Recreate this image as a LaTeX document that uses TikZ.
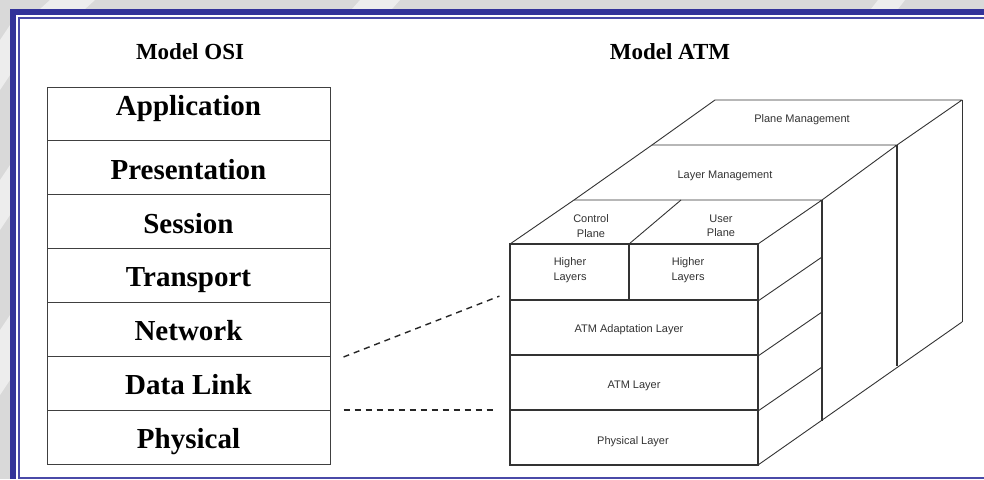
\documentclass[tikz,border=0pt]{standalone}
\usepackage{fontspec}
\setmainfont{Liberation Serif}
\newfontfamily\arialfont{Liberation Sans}
\usetikzlibrary{calc}
\definecolor{framebl}{HTML}{333399}
\definecolor{framelt}{HTML}{4A4AA8}
\definecolor{bggray}{HTML}{D9D9D9}
\definecolor{wmark}{HTML}{EDEDED}
\definecolor{lyrline}{HTML}{333333}

\begin{document}
\begin{tikzpicture}[x=1pt,y=-1pt,
  osirow/.style={draw=black!75,line width=1pt,minimum width=283pt,minimum height=53.9pt,inner sep=0pt},
  ositext/.style={anchor=base,inner sep=0pt,font=\fontsize{29}{30}\selectfont\bfseries},
  heading/.style={font=\fontsize{23}{25}\selectfont\bfseries},
  atmlabel/.style={font=\arialfont\fontsize{11}{14.5}\selectfont,text=black!80,align=center,inner sep=0pt},
  atmbox/.style={draw=lyrline,line width=1.2pt,inner sep=0pt},
  edge/.style={draw=lyrline,line width=0.9pt,line join=round},
  link/.style={draw=black!85,line width=1.4pt,dash pattern=on 6pt off 5pt}
]
\useasboundingbox (0,0) rectangle (984,479);

% page background with faint watermark strokes
\fill[bggray] (0,0) rectangle (984,479);
\fill[wmark] (50,0) -- (95,0) -- (85,9) -- (40,9) -- cycle;
\fill[wmark] (360,0) -- (400,0) -- (392,9) -- (352,9) -- cycle;
\fill[wmark] (878,0) -- (905,0) -- (898,9) -- (871,9) -- cycle;
\fill[wmark] (0,40) -- (10,25) -- (10,75) -- (0,90) -- cycle;
\fill[wmark] (0,180) -- (10,165) -- (10,215) -- (0,230) -- cycle;
\fill[wmark] (0,330) -- (10,315) -- (10,380) -- (0,395) -- cycle;
\fill[white] (10,9) rectangle (984,479);

% double blue frame
\fill[framebl] (10,9) rectangle (984,15);
\fill[framebl] (10,9) rectangle (16,479);
\fill[framelt] (18,17) rectangle (984,19);
\fill[framelt] (18,17) rectangle (20,479);
\fill[framelt] (18,476.5) rectangle (984,479);

% headings
\node[heading] (osititle) at (190,52) {Model OSI};
\node[heading] (atmtitle) at (670,52) {Model ATM};

% OSI stack: boxes
\node[osirow] (app) at (188.5,113.95) {};
\node[osirow] (pre) at (188.5,167.85) {};
\node[osirow] (ses) at (188.5,221.75) {};
\node[osirow] (tra) at (188.5,275.65) {};
\node[osirow] (net) at (188.5,329.55) {};
\node[osirow] (dl)  at (188.5,383.45) {};
\node[osirow] (phy) at (188.5,437.35) {};

% OSI stack: layer names, set on their baselines
\node[ositext] (apptext) at ($(app.north)+(0,28.5)$) {Application};
\node[ositext] (pretext) at ($(pre.north)+(0,39.3)$) {Presentation};
\node[ositext] (sestext) at ($(ses.north)+(0,39.3)$) {Session};
\node[ositext] (tratext) at ($(tra.north)+(0,38.5)$) {Transport};
\node[ositext] (nettext) at ($(net.north)+(0,38.5)$) {Network};
\node[ositext] (dltext)  at ($(dl.north)+(0,38)$) {Data Link};
\node[ositext] (phytext) at ($(phy.north)+(0,38.5)$) {Physical};

% ATM cube: corner points
\coordinate (fa) at (510,244);
\coordinate (fb) at (758,244);
\coordinate (fc) at (758,465);
\coordinate (ta) at (574,200);
\coordinate (tb) at (822,200);
\coordinate (la) at (652,145);
\coordinate (lb) at (897,145);
\coordinate (pa) at (715,100);
\coordinate (pb) at (962,100);
\coordinate (cu1) at (629,244);
\coordinate (cu2) at (681,200);

% top faces and right faces
\draw[edge] (fa) -- (ta) -- (tb) -- (fb);
\draw[edge] (cu1) -- (cu2);
\draw[edge] (ta) -- (la) -- (lb) -- (tb);
\draw[edge] (la) -- (pa) -- (pb) -- (lb);
\draw[edge,line width=1.2pt] (tb) -- (822,421);
\draw[edge,line width=1.2pt] (lb) -- (897,366);
\draw[edge] (pb) -- (962,322);
\draw[edge] (fc) -- (962,322);

% front layers
\node[atmbox,minimum width=119pt,minimum height=56pt] (hlc) at (569.5,272) {};
\node[atmbox,minimum width=129pt,minimum height=56pt] (hlu) at (693.5,272) {};
\node[atmbox,minimum width=248pt,minimum height=55pt] (aal) at (634,327.5) {};
\node[atmbox,minimum width=248pt,minimum height=55pt] (atml) at (634,382.5) {};
\node[atmbox,minimum width=248pt,minimum height=55pt] (phyl) at (634,437.5) {};

% side edges of the front layers
\draw[edge] (hlu.south east) -- ++(64,-44);
\draw[edge] (aal.south east) -- ++(64,-44);
\draw[edge] (atml.south east) -- ++(64,-44);

% labels
\node[atmlabel] (pmtext) at (802,120) {Plane Management};
\node[atmlabel] (lmtext) at (725,176) {Layer Management};
\node[atmlabel] (cptext) at (591,226) {Control\\Plane};
\node[atmlabel] (uptext) at (721,226) {User\\Plane};
\node[atmlabel] (hl1text) at (570,270) {Higher\\Layers};
\node[atmlabel] (hl2text) at (688,270) {Higher\\Layers};
\node[atmlabel] (aaltext) at (629,330) {ATM Adaptation Layer};
\node[atmlabel] (atmtext) at (634,386) {ATM Layer};
\node[atmlabel] (phyltext) at (633,442) {Physical Layer};

% correspondence between the models
\draw[link] ($(net.south east)+(13,0)$) -- ($(hlc.south west)+(-10,-4.5)$);
\draw[link] ($(dl.south east)+(13,-1)$) -- ($(dl.south east -| phyl.west)+(-13,-1)$);
\end{tikzpicture}
\end{document}
